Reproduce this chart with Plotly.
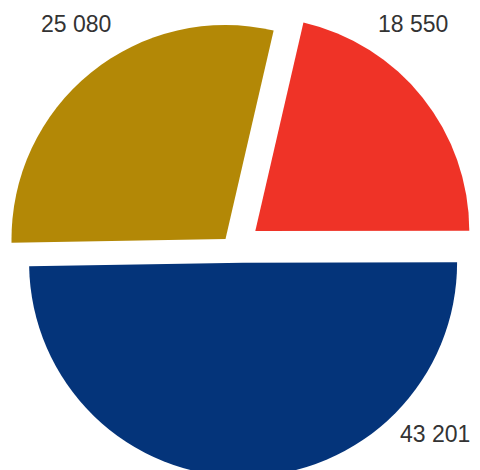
import plotly.graph_objects as go

# data
categories = ["A", "B", "C"]
values = [18550, 43201, 25080]
colors = ["#EF3327", "#04347A", "#B38806"]

# layout (figure pixels): each slice's apex position and radius
W, H = 472, 480
apex_px = [(247.3, 223.0), (235.1, 254.7), (217.5, 231.0)]
radius_px = 214
label_px = [(405, 15.5), (427, 425.5), (67.5, 15.7)]
TRANSPARENT = "rgba(0,0,0,0)"

fig = go.Figure()
for i, (cx, cy) in enumerate(apex_px):
    slice_colors = [colors[j] if j == i else TRANSPARENT for j in range(len(values))]
    fig.add_trace(go.Pie(
        labels=categories,
        values=values,
        sort=False,
        direction="clockwise",
        rotation=13,
        marker=dict(colors=slice_colors, line=dict(width=0)),
        textinfo="none",
        hoverinfo="skip",
        showlegend=False,
        domain=dict(
            x=[(cx - radius_px) / W, (cx + radius_px) / W],
            y=[1 - (cy + radius_px) / H, 1 - (cy - radius_px) / H],
        ),
    ))

def fmt(v):
    return f"{v:,}".replace(",", " ")

annotations = []
for v, (px, py) in zip(values, label_px):
    annotations.append(dict(
        text=fmt(v), x=px / W, y=1 - py / H, xref="paper", yref="paper",
        xanchor="center", yanchor="middle", showarrow=False,
        font=dict(family="Liberation Sans, Arial, sans-serif", size=23, color="#333333"),
    ))

fig.update_layout(
    width=W, height=H,
    margin=dict(l=0, r=0, t=0, b=0),
    paper_bgcolor="white",
    plot_bgcolor="white",
    annotations=annotations,
)

fig.write_html("out.html")
